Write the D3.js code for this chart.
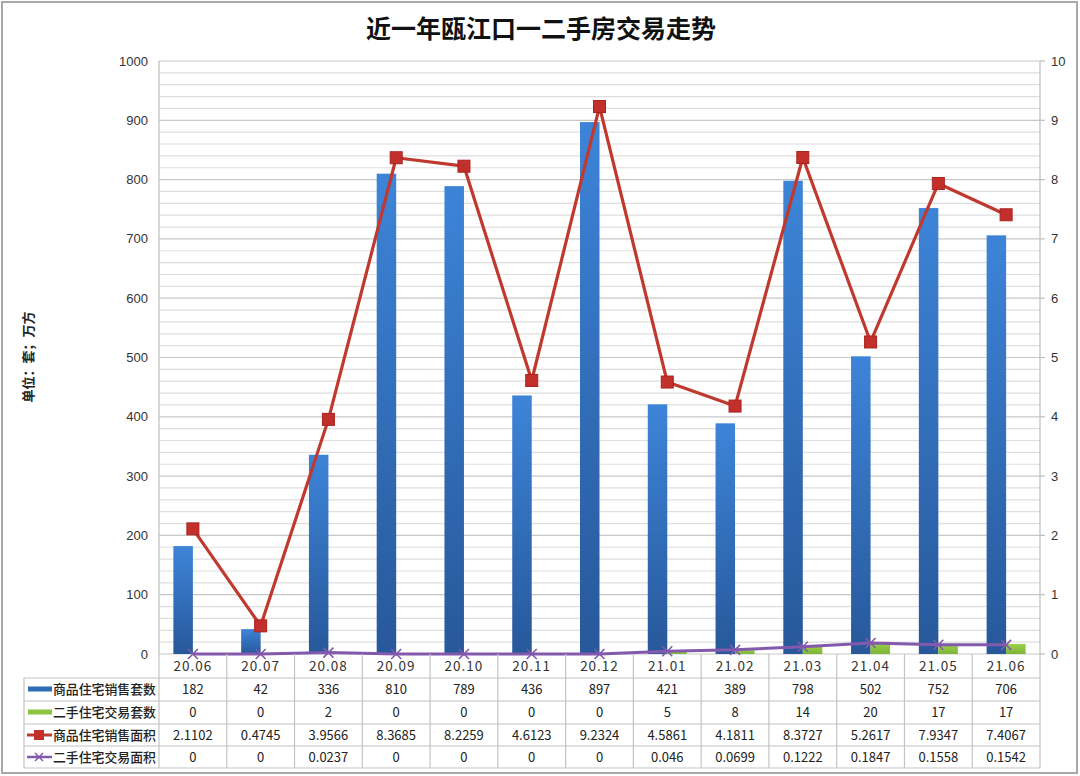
<!DOCTYPE html>
<html><head><meta charset="utf-8">
<script src="https://cdn.jsdelivr.net/npm/d3@7"></script>
<style>
html,body{margin:0;padding:0;background:#fff;}
svg{display:block;}
</style></head>
<body>
<svg id="c" width="1080" height="776"></svg>
<script>
const categories = ["20.06","20.07","20.08","20.09","20.10","20.11","20.12","21.01","21.02","21.03","21.04","21.05","21.06"];
const newSalesCount = [182,42,336,810,789,436,897,421,389,798,502,752,706];
const resaleCount = [0,0,2,0,0,0,0,5,8,14,20,17,17];
const newSalesArea = [2.1102,0.4745,3.9566,8.3685,8.2259,4.6123,9.2324,4.5861,4.1811,8.3727,5.2617,7.9347,7.4067];
const resaleArea = [0,0,0.0237,0,0,0,0,0.046,0.0699,0.1222,0.1847,0.1558,0.1542];
const areaLabels = ["2.1102","0.4745","3.9566","8.3685","8.2259","4.6123","9.2324","4.5861","4.1811","8.3727","5.2617","7.9347","7.4067"];
const resaleAreaLabels = ["0","0","0.0237","0","0","0","0","0.046","0.0699","0.1222","0.1847","0.1558","0.1542"];
const leftTicks = [0,100,200,300,400,500,600,700,800,900,1000];
const rightTicks = [0,1,2,3,4,5,6,7,8,9,10];
const minorTicks = d3.range(0,1001,20);
const seriesNames = ["商品住宅销售套数","二手住宅交易套数","商品住宅销售面积","二手住宅交易面积"];
const title = "近一年瓯江口一二手房交易走势";
const unitLabel = "单位：套；万方";

const svg = d3.select("#c");
const L=159, R=1040, T=61, B=654;
const x = d3.scaleBand().domain(categories).range([L,R]).padding(0);
const yL = d3.scaleLinear().domain([0,1000]).range([B,T]);
const yR = d3.scaleLinear().domain([0,10]).range([B,T]);
const bw = x.bandwidth();
const barW = 19.5;

const defs = svg.append("defs");
const gB = defs.append("linearGradient").attr("id","gb").attr("x1",0).attr("y1",0).attr("x2",0).attr("y2",1);
gB.append("stop").attr("offset","0%").attr("stop-color","#3d84d8");
gB.append("stop").attr("offset","100%").attr("stop-color","#27589a");
const gG = defs.append("linearGradient").attr("id","gg").attr("x1",0).attr("y1",0).attr("x2",0).attr("y2",1);
gG.append("stop").attr("offset","0%").attr("stop-color","#9ccf4c");
gG.append("stop").attr("offset","100%").attr("stop-color","#7db535");

svg.append("rect").attr("x",2).attr("y",2).attr("width",1075).attr("height",771)
  .attr("fill","#fff").attr("stroke","#a8a8a8").attr("stroke-width",2);

svg.append("text").attr("x",541).attr("y",38).attr("text-anchor","middle")
  .attr("font-family","'Noto Sans CJK SC'").attr("font-weight","bold").attr("font-size",25)
  .attr("fill","#111").text(title);

svg.append("text").attr("transform","translate(33,357) rotate(-90)").attr("text-anchor","middle")
  .attr("font-family","'Noto Sans CJK SC'").attr("font-weight","bold").attr("font-size",13)
  .attr("fill","#222").text(unitLabel);

svg.append("g").selectAll("line").data(minorTicks).join("line")
  .attr("x1",L).attr("x2",R).attr("y1",d=>yL(d)).attr("y2",d=>yL(d))
  .attr("stroke",d=>d%100===0?"#c8c8c8":"#dedede").attr("stroke-width",1.2);

svg.append("line").attr("x1",L).attr("x2",L).attr("y1",T).attr("y2",B).attr("stroke","#bdbdbd").attr("stroke-width",1.2);
svg.append("line").attr("x1",R).attr("x2",R).attr("y1",T).attr("y2",B).attr("stroke","#bdbdbd").attr("stroke-width",1.2);
svg.append("g").selectAll("line").data(rightTicks).join("line")
  .attr("x1",R).attr("x2",R+5).attr("y1",d=>yR(d)).attr("y2",d=>yR(d)).attr("stroke","#bdbdbd").attr("stroke-width",1.2);

svg.append("g").selectAll("text").data(leftTicks).join("text")
  .attr("x",148).attr("y",d=>yL(d)).attr("dy","0.35em").attr("text-anchor","end")
  .attr("font-family","'Liberation Sans', Arial").attr("font-size",13).attr("fill","#333")
  .text(d=>d);
svg.append("g").selectAll("text").data(rightTicks).join("text")
  .attr("x",1051).attr("y",d=>yR(d)).attr("dy","0.35em").attr("text-anchor","start")
  .attr("font-family","'Liberation Sans', Arial").attr("font-size",13).attr("fill","#333")
  .text(d=>d);

svg.append("g").selectAll("rect").data(categories).join("rect")
  .attr("x",(c)=>x(c)+bw/2-barW).attr("width",barW)
  .attr("y",(c,i)=>yL(newSalesCount[i])).attr("height",(c,i)=>B-yL(newSalesCount[i]))
  .attr("fill","url(#gb)");
svg.append("g").selectAll("rect").data(categories).join("rect")
  .attr("x",(c)=>x(c)+bw/2).attr("width",barW)
  .attr("y",(c,i)=>yL(resaleCount[i])).attr("height",(c,i)=>B-yL(resaleCount[i]))
  .attr("fill","url(#gg)");

const lineR = d3.line().x((d,i)=>x(categories[i])+bw/2).y(d=>yR(d));
svg.append("path").attr("d",lineR(newSalesArea)).attr("fill","none")
  .attr("stroke","#c0392f").attr("stroke-width",3.2).attr("stroke-linejoin","round");
svg.append("g").selectAll("rect").data(newSalesArea).join("rect")
  .attr("x",(d,i)=>x(categories[i])+bw/2-6).attr("y",d=>yR(d)-6)
  .attr("width",12).attr("height",12).attr("fill","#c3302c").attr("stroke","#a82420").attr("stroke-width",1);

svg.append("path").attr("d",lineR(resaleArea)).attr("fill","none")
  .attr("stroke","#8359ad").attr("stroke-width",3).attr("stroke-linejoin","round");
const xm = svg.append("g");
resaleArea.forEach((d,i)=>{
  const cx = x(categories[i])+bw/2, cy = yR(d);
  xm.append("path").attr("d",`M${cx-5},${cy-5}L${cx+5},${cy+5}M${cx-5},${cy+5}L${cx+5},${cy-5}`)
    .attr("stroke","#8359ad").attr("stroke-width",1.6);
});

const rowY = [654,678,701,724,746,768];
const TL = 24;
const tbl = svg.append("g");
const tcol = "#c4c4c4";
[678,701,724,746,768].forEach(y=>{
  tbl.append("line").attr("x1",TL).attr("x2",R).attr("y1",y).attr("y2",y).attr("stroke",tcol).attr("stroke-width",1.2);
});
tbl.append("line").attr("x1",TL).attr("x2",TL).attr("y1",678).attr("y2",768).attr("stroke",tcol).attr("stroke-width",1.2);
tbl.append("line").attr("x1",L).attr("x2",L).attr("y1",654).attr("y2",768).attr("stroke",tcol).attr("stroke-width",1.2);
categories.forEach(c=>{
  tbl.append("line").attr("x1",x(c)+bw).attr("x2",x(c)+bw).attr("y1",654).attr("y2",768).attr("stroke",tcol).attr("stroke-width",1.2);
});
tbl.selectAll("text.h").data(categories).join("text").attr("class","h")
  .attr("x",c=>x(c)+bw/2).attr("y",(rowY[0]+rowY[1])/2).attr("dy","0.36em").attr("text-anchor","middle")
  .attr("font-family","'Noto Sans CJK SC'").attr("font-size",13.5).attr("letter-spacing",1).attr("fill","#333")
  .text(c=>c);
const rows = [newSalesCount.map(String), resaleCount.map(String), areaLabels, resaleAreaLabels];
rows.forEach((r,ri)=>{
  const yc = (rowY[ri+1]+rowY[ri+2])/2;
  tbl.append("g").selectAll("text").data(r).join("text")
    .attr("x",(d,i)=>x(categories[i])+bw/2).attr("y",yc).attr("dy","0.36em").attr("text-anchor","middle")
    .attr("font-family","'Noto Sans CJK SC'").attr("font-size",13).attr("fill","#222").text(d=>d);
  tbl.append("text").attr("x",53).attr("y",yc).attr("dy","0.36em")
    .attr("font-family","'Noto Sans CJK SC'").attr("font-weight",500).attr("font-size",13)
    .attr("textLength",103).attr("lengthAdjust","spacingAndGlyphs").attr("fill","#222")
    .text(seriesNames[ri]);
});
const k1y = (rowY[1]+rowY[2])/2, k2y=(rowY[2]+rowY[3])/2, k3y=(rowY[3]+rowY[4])/2, k4y=(rowY[4]+rowY[5])/2;
tbl.append("rect").attr("x",28).attr("y",k1y-3).attr("width",24).attr("height",5).attr("fill","#2f6cb8");
tbl.append("rect").attr("x",28).attr("y",k2y-3).attr("width",24).attr("height",5).attr("fill","#8cc43f");
tbl.append("line").attr("x1",27).attr("x2",52).attr("y1",k3y).attr("y2",k3y).attr("stroke","#c0392f").attr("stroke-width",3);
tbl.append("rect").attr("x",34).attr("y",k3y-5).attr("width",10).attr("height",10).attr("fill","#c3302c");
tbl.append("line").attr("x1",27).attr("x2",52).attr("y1",k4y).attr("y2",k4y).attr("stroke","#8359ad").attr("stroke-width",2.5);
tbl.append("path").attr("d",`M35,${k4y-4}L43,${k4y+4}M35,${k4y+4}L43,${k4y-4}`).attr("stroke","#8359ad").attr("stroke-width",1.5);
</script>
</body></html>
